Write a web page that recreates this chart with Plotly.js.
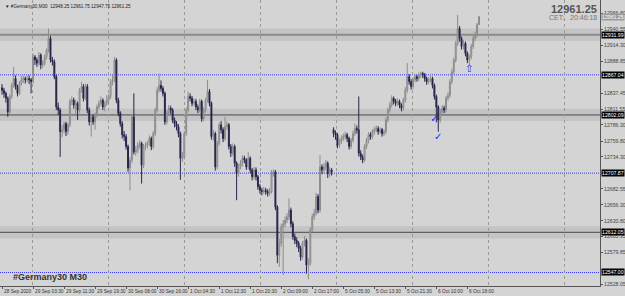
<!DOCTYPE html>
<html><head><meta charset="utf-8">
<script src="https://cdn.plot.ly/plotly-3.0.1.min.js"></script>
<style>html,body{margin:0;padding:0;background:#d4d4d4;}#chart{width:625px;height:296px;}</style>
</head><body><div id="chart"></div>
<script>
const opens = [12846,12842,12837,12829,12807,12832,12850,12861,12848,12837,
12853,12859,12861,12859,12861,12859,12856,12896,12891,12886,
12899,12883,12886,12896,12907,12926,12891,12888,12864,12815,
12810,12775,12778,12788,12775,12786,12824,12826,12818,12821,
12810,12842,12848,12829,12848,12810,12791,12799,12791,12802,
12815,12821,12826,12815,12821,12826,12832,12856,12859,12891,
12826,12805,12788,12770,12767,12751,12716,12729,12799,12742,
12745,12753,12756,12721,12751,12753,12756,12764,12751,12772,
12810,12842,12850,12845,12837,12791,12805,12813,12810,12794,
12788,12783,12772,12732,12734,12772,12810,12832,12829,12821,
12824,12815,12810,12824,12796,12810,12826,12840,12821,12767,
12772,12718,12756,12786,12778,12764,12783,12786,12751,12740,
12751,12724,12707,12718,12724,12732,12729,12718,12732,12713,
12702,12713,12702,12686,12680,12678,12680,12678,12675,12678,
12707,12710,12653,12575,12594,12621,12626,12632,12637,12648,
12626,12605,12599,12594,12586,12572,12594,12599,12559,12562,
12616,12637,12643,12670,12648,12718,12713,12718,12724,12707,
12713,12778,12772,12770,12753,12759,12764,12767,12770,12764,
12751,12761,12772,12780,12778,12740,12734,12729,12751,12761,
12770,12767,12775,12778,12780,12775,12778,12772,12775,12794,
12810,12818,12829,12824,12821,12824,12818,12813,12826,12842,
12864,12856,12848,12859,12864,12861,12867,12869,12867,12861,
12856,12859,12861,12850,12832,12815,12794,12807,12813,12810,
12829,12834,12856,12872,12891,12918,12942,12926,12913,12918,
12902,12891,12896,12913,12926,12932,12948.25];
const highs = [12852,12846,12840,12832,12836,12854,12880,12866,12851,12857,
12865,12866,12864,12866,12866,12862,12902,12899,12895,12904,
12902,12891,12900,12910,12942,12930,12896,12892,12867,12822,
12813,12786,12792,12791,12790,12828,12832,12830,12827,12824,
12846,12856,12852,12853,12852,12814,12804,12803,12806,12819,
12826,12832,12829,12825,12834,12836,12860,12866,12896,12894,
12830,12808,12792,12776,12771,12754,12734,12803,12837,12752,
12758,12761,12759,12755,12758,12760,12769,12767,12776,12814,
12847,12869,12858,12849,12840,12810,12818,12817,12813,12798,
12792,12787,12775,12742,12776,12814,12840,12837,12833,12829,
12828,12819,12828,12827,12814,12830,12859,12844,12824,12778,
12775,12760,12790,12792,12782,12799,12792,12789,12755,12756,
12754,12727,12723,12729,12737,12736,12732,12742,12735,12716,
12718,12717,12705,12690,12684,12686,12684,12682,12684,12713,
12714,12713,12656,12602,12626,12632,12638,12643,12667,12652,
12630,12610,12604,12598,12590,12598,12606,12602,12570,12620,
12642,12650,12676,12674,12737,12722,12724,12729,12727,12718,
12716,12782,12777,12773,12764,12769,12772,12775,12773,12767,
12765,12777,12788,12785,12832,12745,12738,12755,12765,12774,
12774,12779,12783,12785,12784,12782,12781,12779,12798,12814,
12823,12834,12832,12828,12829,12827,12821,12830,12847,12886,
12868,12860,12863,12868,12867,12871,12872,12872,12870,12864,
12863,12866,12864,12853,12835,12818,12812,12818,12817,12833,
12839,12860,12877,12895,12922,12964,12946,12929,12923,12921,
12905,12900,12917,12930,12937,12951,12961.75];
const lows = [12835,12830,12822,12799,12804,12828,12846,12843,12832,12834,
12850,12854,12853,12855,12852,12837,12853,12883,12880,12882,
12876,12878,12882,12892,12903,12887,12882,12860,12810,12802,
12734,12766,12772,12768,12770,12782,12818,12812,12800,12794,
12806,12838,12824,12826,12805,12785,12767,12786,12778,12798,
12811,12817,12810,12808,12817,12820,12828,12850,12855,12821,
12800,12783,12764,12760,12746,12710,12680,12724,12738,12736,
12740,12748,12691,12716,12745,12748,12752,12745,12747,12768,
12806,12838,12840,12832,12786,12787,12800,12804,12789,12782,
12777,12766,12697,12726,12730,12768,12806,12824,12816,12817,
12810,12805,12806,12791,12792,12806,12822,12816,12762,12760,
12712,12714,12752,12772,12758,12760,12778,12746,12734,12736,
12718,12664,12702,12714,12719,12724,12713,12714,12708,12696,
12698,12696,12681,12675,12672,12674,12673,12670,12671,12675,
12702,12648,12562,12556,12589,12543,12620,12627,12632,12620,
12600,12593,12588,12580,12566,12568,12589,12545,12536,12558,
12612,12632,12639,12643,12644,12706,12708,12712,12700,12702,
12704,12766,12762,12748,12749,12755,12760,12762,12758,12746,
12747,12757,12768,12772,12735,12729,12724,12726,12747,12756,
12762,12763,12770,12774,12770,12771,12767,12768,12771,12790,
12806,12814,12819,12816,12817,12813,12808,12809,12822,12838,
12851,12843,12844,12855,12856,12857,12862,12862,12856,12851,
12852,12855,12845,12827,12790,12775,12790,12802,12805,12806,
12825,12830,12852,12868,12887,12914,12921,12908,12908,12897,
12886,12883,12892,12909,12922,12928,12947.75];
const closes = [12842,12837,12829,12807,12832,12850,12861,12848,12837,12853,
12859,12861,12859,12861,12859,12856,12896,12891,12886,12899,
12883,12886,12896,12907,12926,12891,12888,12864,12815,12810,
12775,12778,12788,12775,12786,12824,12826,12818,12821,12810,
12842,12848,12829,12848,12810,12791,12799,12791,12802,12815,
12821,12826,12815,12821,12826,12832,12856,12859,12891,12826,
12805,12788,12770,12767,12751,12716,12729,12799,12742,12745,
12753,12756,12721,12751,12753,12756,12764,12751,12772,12810,
12842,12850,12845,12837,12791,12805,12813,12810,12794,12788,
12783,12772,12732,12734,12772,12810,12832,12829,12821,12824,
12815,12810,12824,12796,12810,12826,12840,12821,12767,12772,
12718,12756,12786,12778,12764,12783,12786,12751,12740,12751,
12724,12707,12718,12724,12732,12729,12718,12732,12713,12702,
12713,12702,12686,12680,12678,12680,12678,12675,12678,12707,
12710,12653,12575,12594,12621,12626,12632,12637,12648,12626,
12605,12599,12594,12586,12572,12594,12599,12559,12562,12616,
12637,12643,12670,12648,12718,12713,12718,12724,12707,12713,
12710,12772,12770,12753,12759,12764,12767,12770,12764,12751,
12761,12772,12780,12778,12740,12734,12729,12751,12761,12770,
12767,12775,12778,12780,12775,12778,12772,12775,12794,12810,
12818,12829,12824,12821,12824,12818,12813,12826,12842,12864,
12856,12848,12859,12864,12861,12867,12869,12867,12861,12856,
12859,12861,12850,12832,12815,12794,12807,12813,12810,12829,
12834,12856,12872,12891,12918,12942,12926,12913,12918,12902,
12891,12896,12913,12926,12932,12948.25,12961.25];

const timeLabelBars = [0,16,32,48,64,80,96,112,128,144,160,176,192,208,224,240];
const timeLabels = ["28 Sep 2020","29 Sep 03:30","29 Sep 11:30","29 Sep 19:30","30 Sep 08:00","30 Sep 16:00",
"1 Oct 04:30","1 Oct 12:30","1 Oct 20:30","2 Oct 09:00","2 Oct 17:00","5 Oct 05:30","5 Oct 13:30",
"5 Oct 21:30","6 Oct 10:00","6 Oct 18:00"];
const priceTicks = [12966.80,12940.55,12914.30,12888.85,12837.45,12811.55,12786.30,12759.80,
12734.30,12682.55,12656.30,12630.80,12605.35,12579.85,12528.05];
const levelLines = [12931.99, 12802.09, 12612.05];
const dottedLevels = [12867.04, 12707.87, 12547.00];
const currentPrice = 12961.25;
const signalBars = [223, 225, 241];
const signalPrices = [12794, 12766, 12875];
const signalSymbols = ["✓", "✓", "⇧"];

const barIndex = opens.map((_, i) => i);
const GRAY_BG = '#d4d4d4';

const candle = {
  type: 'candlestick', x: barIndex, open: opens, high: highs, low: lows, close: closes,
  increasing: {line: {color: '#8c8c8c', width: 1}, fillcolor: '#bcbcbc'},
  decreasing: {line: {color: '#26264c', width: 1}, fillcolor: '#1c1c44'},
  whiskerwidth: 0, hoverinfo: 'skip', showlegend: false
};
const signals = {
  type: 'scatter', mode: 'text', x: signalBars, y: signalPrices, text: signalSymbols,
  textfont: {color: '#1f1fff', size: 10, family: 'DejaVu Sans'}, hoverinfo: 'skip', showlegend: false
};

const shapes = [];
levelLines.forEach((v, i) => {
  shapes.push({type: 'rect', xref: 'paper', x0: 0, x1: 1, yref: 'y', y0: v - 10, y1: v + 10,
    fillcolor: '#c4c4c4', line: {width: 0}, layer: 'between'});
  shapes.push({type: 'line', xref: 'paper', x0: 0, x1: 1, yref: 'y', y0: v, y1: v,
    line: {color: i === 0 ? '#8a8a8a' : '#4a4a4a', width: i === 0 ? 2 : 1}, layer: 'between'});
});
dottedLevels.forEach(v => {
  shapes.push({type: 'line', xref: 'paper', x0: 0, x1: 1, yref: 'y', y0: v, y1: v,
    line: {color: '#3434f0', width: 1, dash: '1px,1px'}, layer: 'between'});
});

const annotations = [];
timeLabelBars.forEach((b, i) => {
  annotations.push({x: b, xref: 'x', y: 0, yref: 'paper', yanchor: 'top', xanchor: 'left',
    yshift: -1, xshift: 0, text: timeLabels[i], showarrow: false,
    font: {family: 'Liberation Sans', size: 4.8, color: '#333'}});
});
levelLines.concat(dottedLevels).forEach(v => {
  annotations.push({x: 1, xref: 'paper', y: v, yref: 'y', xanchor: 'left', yanchor: 'middle', xshift: 1,
    text: v.toFixed(2), showarrow: false, bgcolor: '#000', borderpad: 0,
    font: {family: 'Liberation Sans', size: 5.2, color: '#fff'}});
});
annotations.push({x: 1, xref: 'paper', y: currentPrice, yref: 'y', xanchor: 'left', yanchor: 'middle', xshift: 1,
  text: currentPrice.toFixed(2), showarrow: false, bgcolor: '#9c9c9c', borderpad: 0,
  font: {family: 'Liberation Sans', size: 5.2, color: '#fff'}});
annotations.push({x: 0, xref: 'paper', y: 1, yref: 'paper', xanchor: 'left', yanchor: 'top', xshift: 3, yshift: -2,
  text: '▼ #Germany30,M30  12948.25 12961.75 12947.75 12961.25', showarrow: false,
  font: {family: 'Liberation Sans', size: 4.6, color: '#222'}});
annotations.push({x: 1, xref: 'paper', y: 1, yref: 'paper', xanchor: 'right', yanchor: 'top', xshift: -1, yshift: -1,
  text: '<b>' + currentPrice.toFixed(2) + '</b>', showarrow: false,
  font: {family: 'Liberation Sans', size: 11, color: '#555'}});
annotations.push({x: 1, xref: 'paper', y: 1, yref: 'paper', xanchor: 'right', yanchor: 'top', xshift: -1, yshift: -12,
  text: 'CET:   20:46:18', showarrow: false,
  font: {family: 'Liberation Sans', size: 7, color: '#777'}});
annotations.push({x: 0, xref: 'paper', y: 0, yref: 'paper', xanchor: 'left', yanchor: 'bottom', xshift: 11, yshift: 2,
  text: '<b>#Germany30 M30</b>', showarrow: false,
  font: {family: 'Liberation Sans', size: 9, color: '#333'}});

const layout = {
  width: 625, height: 296,
  margin: {l: 0, r: 25, t: 0, b: 10, pad: 0},
  paper_bgcolor: GRAY_BG, plot_bgcolor: GRAY_BG,
  showlegend: false,
  xaxis: {range: [-1.03, 308.4], rangeslider: {visible: false}, showgrid: true, gridcolor: '#9a9a9a',
    griddash: 'dot', gridwidth: 1, tick0: 15.5, dtick: 39.2, tickmode: 'linear', showticklabels: false,
    ticks: '', zeroline: false, showline: true, linecolor: '#555', linewidth: 1, fixedrange: true},
  xaxis2: {overlaying: 'x', anchor: 'y', side: 'bottom', range: [-1.03, 308.4], tickmode: 'array',
    tickvals: timeLabelBars, ticks: 'outside', ticklen: 2, tickcolor: '#555', showticklabels: false,
    showgrid: false, zeroline: false, showline: false},
  yaxis: {range: [12525.1, 12988.2], side: 'right', tickmode: 'array', tickvals: priceTicks,
    ticktext: priceTicks.map(v => v.toFixed(2)), tickfont: {family: 'Liberation Sans', size: 5.2, color: '#444'},
    ticks: 'outside', ticklen: 2, tickcolor: '#555', showgrid: false, zeroline: false,
    showline: true, linecolor: '#555', linewidth: 1, mirror: true, fixedrange: true},
  shapes: shapes, annotations: annotations
};
const dummy = {type: 'scatter', x: [0], y: [12700], xaxis: 'x2', yaxis: 'y', mode: 'markers',
  marker: {opacity: 0}, hoverinfo: 'skip', showlegend: false};
Plotly.newPlot('chart', [candle, signals, dummy], layout, {staticPlot: true, displayModeBar: false});
</script></body></html>
